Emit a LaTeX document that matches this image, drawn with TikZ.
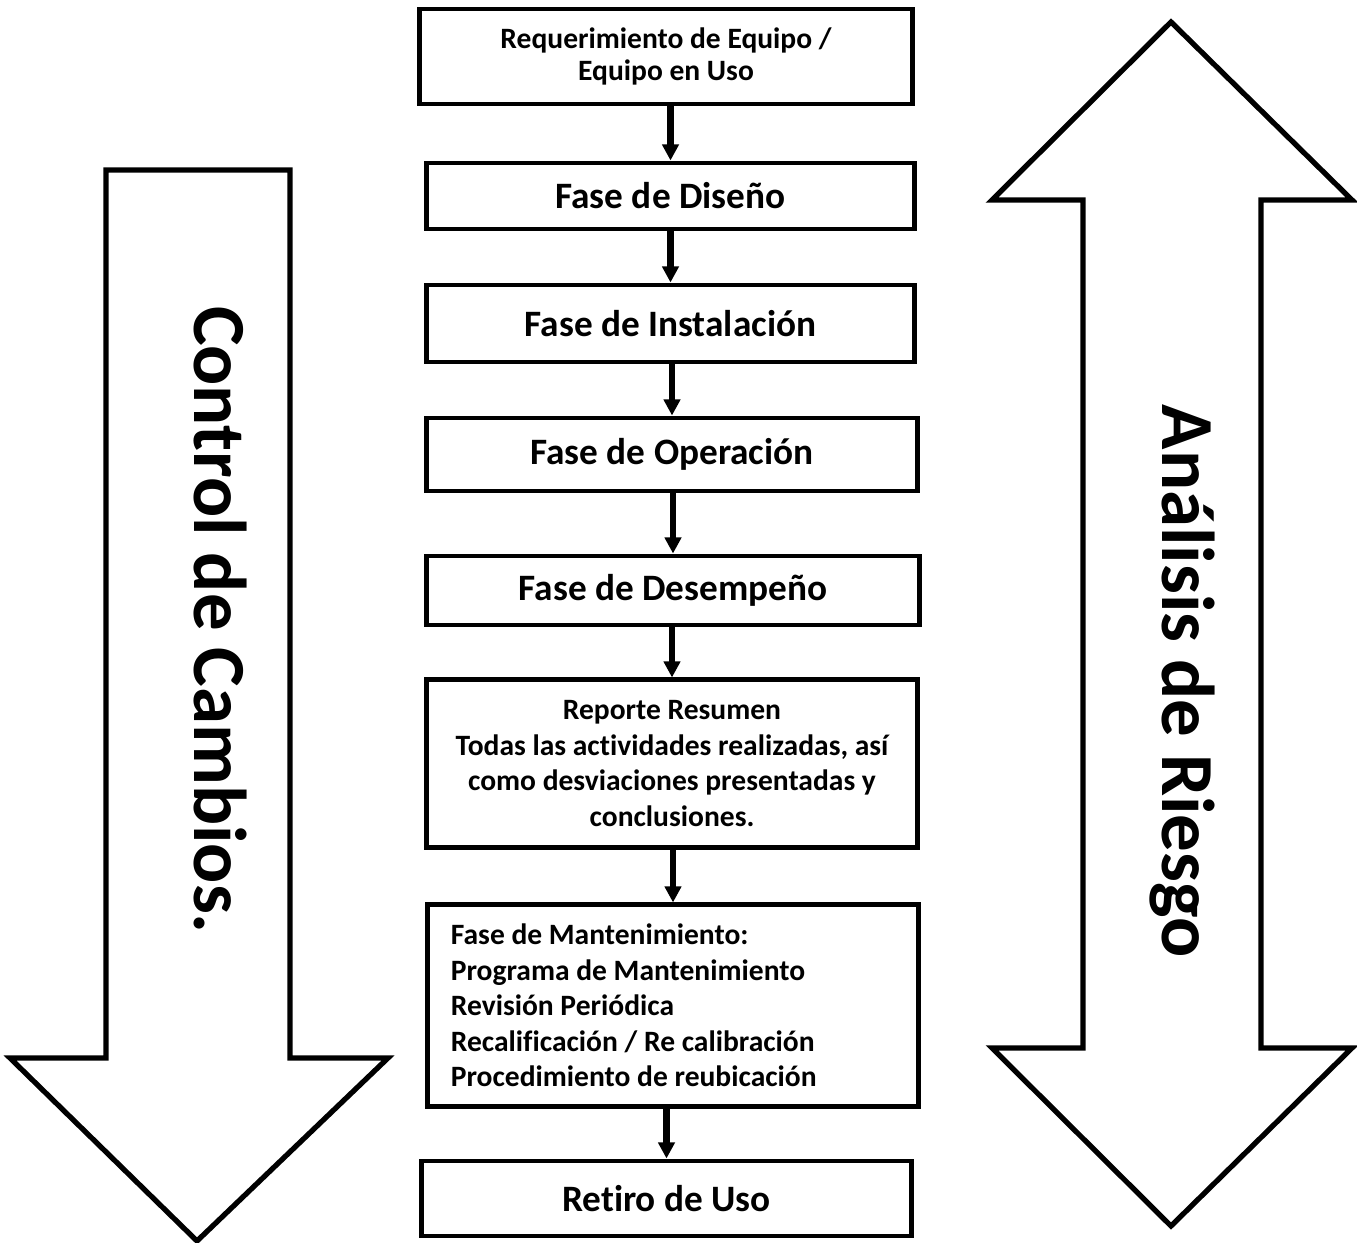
\documentclass[tikz,border=0pt]{standalone}
\usepackage{fontspec}
\setmainfont{Carlito}[Ligatures=NoCommon]
\usetikzlibrary{arrows.meta}
\tikzset{fig/.style={line join=miter,>={Triangle[width=4.6pt,length=4.6pt]}},
  stage/.style={draw,line width=1.4pt,inner sep=0pt,align=center,font=\bfseries\fontsize{10.6}{12.6}\selectfont},
  note/.style={stage,font=\bfseries\fontsize{8.4}{10.1}\selectfont},
  flow/.style={->,line width=1.8pt},
  bigarrow/.style={draw,line width=1.5pt,fill=white},
  bigtext/.style={rotate=-90,anchor=base,inner sep=0pt,font=\bfseries\fontsize{21.3}{25}\selectfont}}

\begin{document}
\begin{tikzpicture}[fig,x=0.01cm,y=-0.01cm]
  \useasboundingbox (0,0) rectangle (1357,1243);
  % side arrows
  \draw[bigarrow](106,170)--(290,170)--(290,1058)--(388,1058)--(197,1241)--(10,1058)--(106,1058)--cycle;
  \draw[bigarrow](1171,22)--(1352,200)--(1261,200)--(1261,1048)--(1352,1048)--(1171,1226)--(992,1048)--(1083,1048)--(1083,200)--(992,200)--cycle;
  \node[bigtext](cambios)at(194,620){Control de Cambios.};
  \node[bigtext](riesgo)at(1162,681){Análisis de Riesgo};
  % stages
  \node[note,minimum width=4.92cm,minimum height=0.95cm,font=\bfseries\fontsize{8.4}{9.2}\selectfont](req)at(666,56.5){Requerimiento de Equipo /\\Equipo en Uso};
  \node[stage,minimum width=4.87cm,minimum height=0.66cm](dis)at(670.5,196){Fase de Diseño};
  \node[stage,minimum width=4.87cm,minimum height=0.77cm](ins)at(670.5,323.5){Fase de Instalación};
  \node[stage,minimum width=4.90cm,minimum height=0.73cm](ope)at(672,454.5){Fase de Operación};
  \node[stage,minimum width=4.92cm,minimum height=0.69cm](des)at(673,590.5){Fase de Desempeño};
  \node[note,minimum width=4.90cm,minimum height=1.67cm](rep)at(672,763.5){Reporte Resumen\\Todas las actividades realizadas, así\\como desviaciones presentadas y\\conclusiones.};
  \node[note,align=flush left,text width=4.44cm,inner xsep=0.23cm,minimum height=2.01cm](man)at(673,1005.5){Fase de Mantenimiento:\\Programa de Mantenimiento\\Revisión Periódica\\Recalificación / Re calibración\\Procedimiento de reubicación};
  \node[stage,minimum width=4.89cm,minimum height=0.75cm](ret)at(666.5,1198.5){Retiro de Uso};
  \foreach \a/\b in {req/dis,dis/ins,ins/ope,ope/des,des/rep,rep/man,man/ret}
    \draw[flow](\a.south -| \b.north)--(\b.north);
\end{tikzpicture}
\end{document}
